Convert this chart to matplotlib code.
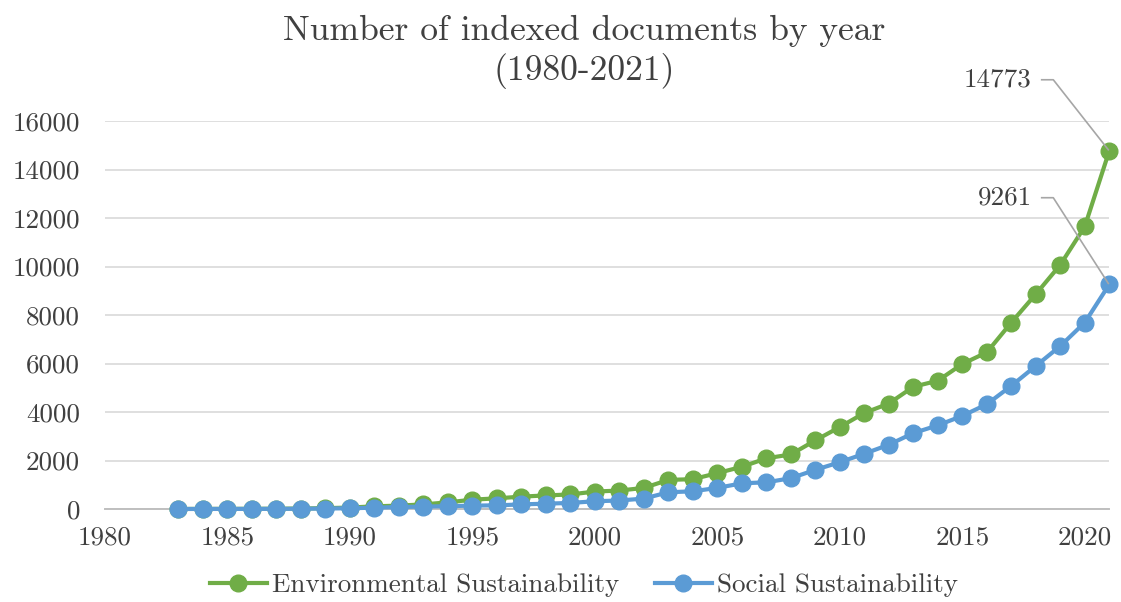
import matplotlib
matplotlib.use("Agg")
import matplotlib.pyplot as plt
from matplotlib.lines import Line2D
from matplotlib.transforms import IdentityTransform

plt.rcParams["font.family"] = ["cmr10", "DejaVu Serif"]
plt.rcParams["axes.formatter.use_mathtext"] = True

years = list(range(1983, 2022))
environmental = [2, 4, 6, 8, 12, 20, 35, 60, 110, 140, 190, 275, 385, 440, 510,
                 560, 600, 720, 760, 870, 1200, 1230, 1480, 1740, 2090, 2250,
                 2830, 3380, 3960, 4350, 5040, 5290, 5980, 6460, 7690, 8860,
                 10070, 11650, 14773]
social = [1, 2, 3, 4, 6, 10, 20, 30, 55, 80, 100, 115, 140, 150, 190, 220, 250,
          320, 350, 430, 690, 730, 870, 1060, 1100, 1270, 1615, 1930, 2280,
          2650, 3130, 3450, 3840, 4320, 5080, 5900, 6720, 7690, 9261]
x_ticks = [1980, 1985, 1990, 1995, 2000, 2005, 2010, 2015, 2020]
y_ticks = [0, 2000, 4000, 6000, 8000, 10000, 12000, 14000, 16000]

GREEN = "#70AD47"
BLUE = "#5B9BD5"
TEXT = "#404040"
W, H = 1121, 602

fig = plt.figure(figsize=(W / 100, H / 100), dpi=100)
ax = fig.add_axes([105 / W, 1 - 509 / H, (1109.3 - 105) / W, (509 - 121) / H])

ax.plot(years, environmental, color=GREEN, lw=3, marker="o", ms=12,
        label="Environmental Sustainability", zorder=3, clip_on=False)
ax.plot(years, social, color=BLUE, lw=3, marker="o", ms=12,
        label="Social Sustainability", zorder=4, clip_on=False)

ax.set_xlim(1980, 2021)
ax.set_ylim(0, 16000)
ax.set_xticks(x_ticks)
ax.set_xticklabels([str(t) for t in x_ticks])
ax.set_yticks(y_ticks)
ax.set_yticklabels([str(t) for t in y_ticks])
ax.tick_params(axis="both", length=0, labelsize=19.5, colors=TEXT)
ax.tick_params(axis="y", pad=18)
ax.tick_params(axis="x", pad=12)
ax.grid(axis="y", color="#D9D9D9", lw=1.2, zorder=0)
for side in ("top", "right", "left"):
    ax.spines[side].set_visible(False)
ax.spines["bottom"].set_color("#BFBFBF")
ax.spines["bottom"].set_linewidth(1.4)
ax.set_axisbelow(True)

# title (two lines)
fig.text(584 / W, 1 - 40 / H, "Number of indexed documents by year",
         ha="center", va="baseline", fontsize=25.6, color=TEXT)
fig.text(584 / W, 1 - 80 / H, "(1980-2021)",
         ha="center", va="baseline", fontsize=25.6, color=TEXT)

# end-of-series value labels with leader lines
for series, up in ((environmental, 71), (social, 86.7)):
    val = series[-1]
    px, py = ax.transData.transform((years[-1], val))
    fig.text((px - 77.6) / W, (py + up) / H, f"{val}", ha="right", va="center",
             fontsize=19.5, color=TEXT)
    fig.add_artist(Line2D([px - 67.6, px - 56, px - 1], [py + up, py + up, py + 1],
                          transform=IdentityTransform(), color="#A6A6A6", lw=1.2,
                          zorder=5))

leg = fig.legend(loc="center", bbox_to_anchor=(584 / W, 1 - 585 / H), ncol=2,
                 frameon=False, fontsize=19.5, handlelength=2.1,
                 handletextpad=0.2, columnspacing=1.3, borderpad=0)
for t in leg.get_texts():
    t.set_color(TEXT)

fig.savefig("out.png", dpi=100)
